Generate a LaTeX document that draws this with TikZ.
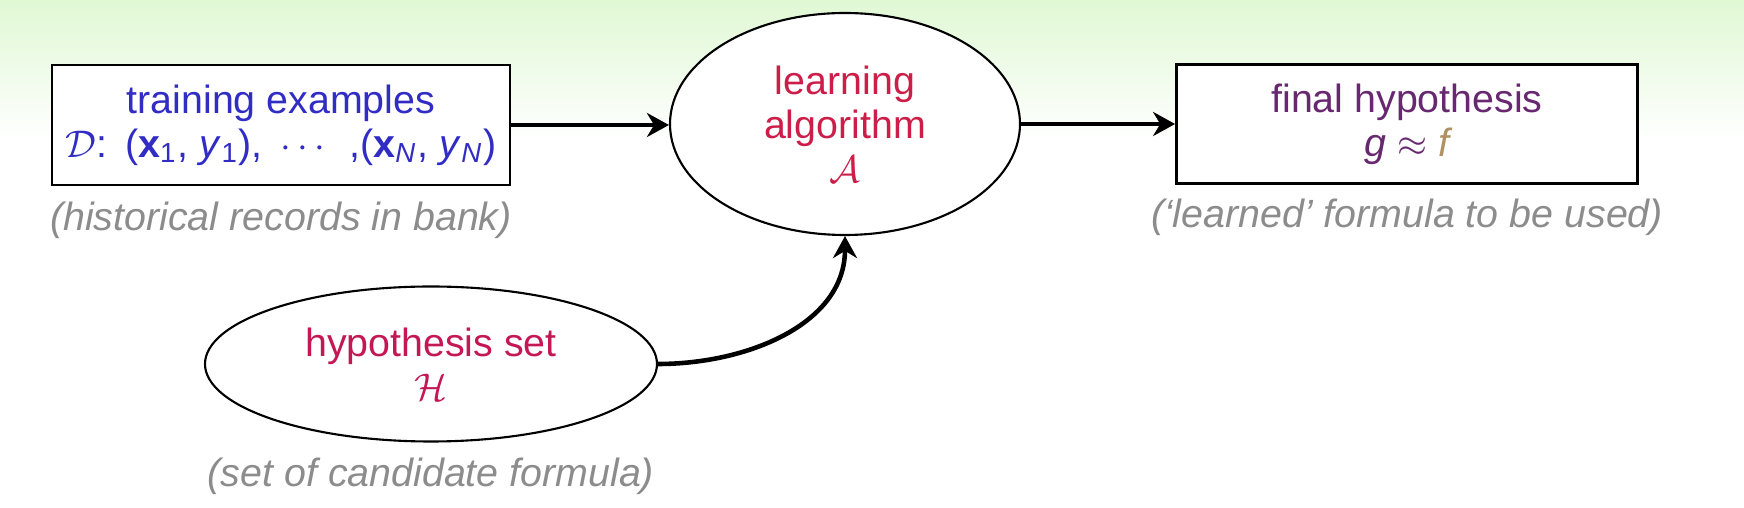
\documentclass[tikz,border=0pt]{standalone}
\usepackage{fontspec}
\setmainfont{Liberation Sans}
\usepackage{amsmath}
\usetikzlibrary{shapes.geometric, arrows.meta, positioning, calc}

\definecolor{bggreen}{RGB}{224,248,212}
\definecolor{trainblue}{RGB}{48,44,196}
\definecolor{algored}{RGB}{204,30,72}
\definecolor{hypred}{RGB}{196,24,84}
\definecolor{finalpurple}{RGB}{104,40,112}
\definecolor{targettan}{RGB}{176,146,98}
\definecolor{notegray}{RGB}{140,140,140}

\begin{document}
\begin{tikzpicture}[x=0.1mm, y=-0.1mm,
    every node/.style={font=\fontsize{11.2}{12.5}\selectfont},
    box/.style={rectangle, draw, fill=white, line width=0.8pt, minimum width=45.8mm, minimum height=12mm, align=center, inner sep=1pt},
    oval/.style={ellipse, draw, fill=white, line width=0.6pt, align=center, inner sep=0pt},
    note/.style={text=notegray, font=\fontsize{11.2}{12.5}\selectfont\itshape},
    arr/.style={-{Stealth[length=2.2mm, width=2.4mm]}, line width=1.3pt}
]
    % slide background
    \useasboundingbox (0,0) rectangle (1744,508);
    \shade[top color=bggreen, bottom color=white] (0,0) rectangle (1744,140);

    \node[box, text=trainblue] (train) at (281,125) {
        training examples\\
        $\mathcal{D}$:\hspace{0.45em}(\textbf{x}\textsubscript{1},\hspace{0.3em}\textit{y}\textsubscript{1}),\hspace{0.45em}$\cdots$\hspace{0.45em},(\textbf{x}\textsubscript{\textit{N}},\hspace{0.3em}\textit{y}\textsubscript{\textit{N}})
    };
    \node[note, below=0.3mm of train] (trainnote) {(historical records in bank)};

    \node[oval, text=algored, minimum width=35mm, minimum height=22.2mm] (algo) at (845,124) {
        learning\\
        algorithm\\
        $\mathcal{A}$
    };

    \node[box, text=finalpurple, minimum width=46.1mm, minimum height=11.9mm] (final) at (1407,124) {
        final hypothesis\\
        $\mathit{g}\approx{\color{targettan}\mathit{f}}$
    };
    \node[note, below=0.2mm of final] (finalnote) {(`learned' formula to be used)};

    \node[oval, text=hypred, minimum width=45.2mm, minimum height=15.5mm] (hypset) at (431,364) {
        hypothesis set\\
        $\mathcal{H}$
    };
    \node[note, below=0.3mm of hypset] (hypnote) {(set of candidate formula)};

    \draw[arr] (train.east) -- (train.east -| algo.west);
    \draw[arr] (algo.east |- final.west) -- (final.west);
    \draw[arr] (hypset.east) to[out=0, in=-90] (algo.south);

\end{tikzpicture}
\end{document}
